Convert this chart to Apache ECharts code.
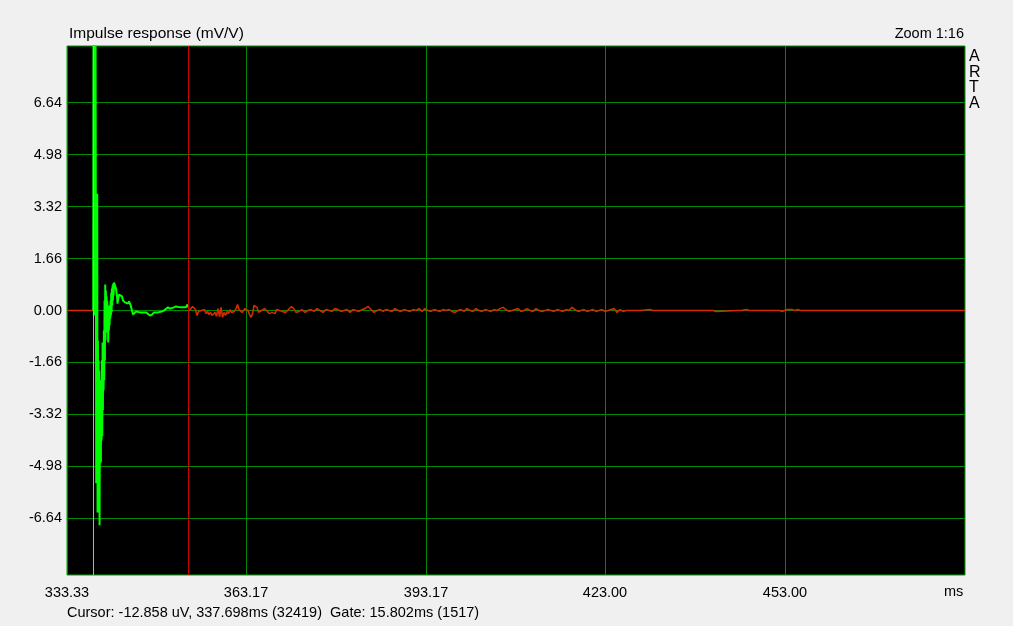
<!DOCTYPE html>
<html><head><meta charset="utf-8">
<script src="https://cdn.jsdelivr.net/npm/echarts@6/dist/echarts.min.js"></script>
<style>html,body{margin:0;padding:0;background:#f0f0f0}#c{width:1013px;height:626px}</style>
</head><body><div id="c"></div><script>
// ---- axis ticks ----
const xTicks = [333.33, 363.17, 393.17, 423.00, 453.00];
const yTicks = [-6.64, -4.98, -3.32, -1.66, 0.00, 1.66, 3.32, 4.98, 6.64];
const xMin = 333.33, xMax = 483.0;
const yMin = -8.45, yMax = 8.45;
const cursorMs = 337.698;
const gateEndMs = 353.5;

// ---- gated part (green), dense section: start, sample step, values (mV/V) ----
const denseStart = 337.70;
const denseStep = 0.0556;
const denseV = [0, 12, -0.16, 11, 0.2, 10, -0.15, 9,
  1.53, -5.52, 0.32, -5.11, 3.73, -6.45, -0.96, -4.47, -1.60, -4.41, -1.92, -6.86,
  -3.19, -4.88, -2.87, -4.85, -2.23, -4.15, -1.60, -4.02, -1.02, -3.19, -1.12, -2.55,
  -0.64, -2.23, 0.32, -1.60, 0.83, -0.96, 0.64, -0.70, 0.45, -0.48, 0.32, -0.32,
  0.16, -1.02, 0.00, -0.64, 0.06, -0.48, 0.16, -0.26, 0.32, -0.16, 0.57, -0.06,
  0.70, 0.16, 0.80, 0.32, 0.86, 0.48];
// gated part, tail section
const tailT = [341.16, 341.33, 341.50, 341.66, 341.75, 341.83, 342.00, 342.16, 342.33, 342.50,
  342.66, 342.83, 343.00, 343.16, 343.33, 343.50, 343.66, 343.83, 344.00, 344.16, 344.33,
  344.50, 344.66, 344.83, 345.16, 345.50, 345.83, 346.16, 346.50, 346.83, 347.16, 347.33,
  347.50, 347.83, 348.16, 348.50, 348.83, 349.16, 349.50, 349.83, 350.16, 350.50, 350.66,
  350.83, 351.16, 351.50, 351.83, 352.16, 352.50, 352.83, 353.16, 353.41, 353.50];
const tailV = [0.89, 0.93, 0.70, 0.45, 0.22, 0.32, 0.51, 0.48, 0.51, 0.45,
  0.32, 0.26, 0.26, 0.29, 0.26, 0.22, 0.29, 0.22, 0.13, 0.00, -0.13,
  -0.16, -0.10, -0.03, -0.06, -0.06, -0.03, -0.06, -0.06, -0.10, -0.16, -0.19,
  -0.13, -0.06, -0.03, -0.06, -0.10, -0.03, 0.00, 0.06, 0.10, 0.06, 0.00,
  0.03, 0.10, 0.13, 0.10, 0.10, 0.10, 0.06, 0.10, 0.19, 0.10];

// ---- outside the gate (red) ----
const preT = [333.33, 337.70];
const preV = [0, 0];
const segAStart = 353.5, segAStep = 0.25;
const segAV = [-0.03, -0.06, 0.06, 0.13, 0.10, 0.03, -0.16, -0.03, -0.06, 0.00,
  -0.03, 0.03, -0.10, -0.03, -0.13, -0.06, -0.16, -0.22, -0.06, -0.19,
  0.06, -0.20, 0.10, -0.22, -0.06, -0.16, -0.03, -0.10, 0.03, -0.06,
  0.00, -0.03, 0.06, 0.19, 0.03, -0.03, -0.06, 0.00, 0.06, 0.10,
  0.00, -0.13, -0.22, -0.10, 0.16, 0.22, 0.10, -0.06, -0.10, 0.00,
  -0.03, 0.06, 0.03, -0.03, -0.10, -0.13, -0.06, 0.00, -0.10, 0.03,
  0.06, 0.00, -0.06, -0.03, 0.03, -0.06, 0.00, 0.03, 0.06, 0.13,
  0.16, 0.03, -0.06, 0.00];
const segBStart = 372.0, segBStep = 0.5;
const segBV = [-0.03, 0.03, -0.06, 0.00, 0.03, -0.03, 0.06, 0.00, -0.06, 0.03,
  0.00, -0.03, 0.06, 0.03, -0.03, 0.00, 0.03, -0.06, 0.03, 0.00,
  -0.03, 0.03, 0.06, 0.13, 0.03, -0.06, 0.00, 0.03, -0.03, 0.03,
  0.00, -0.03, 0.06, 0.00, -0.03, 0.03, 0.00, -0.03, 0.03, 0.00,
  0.06, -0.03, 0.06, 0.00, -0.03, 0.03, 0.00, -0.03, 0.03, 0.00,
  0.03, -0.03, -0.06, 0.00, 0.03, -0.03, 0.06, 0.00, -0.03, 0.06,
  0.00, -0.03, 0.03, 0.00, -0.03, 0.03, 0.00, 0.06, 0.10, 0.03,
  -0.03, 0.00, 0.03, 0.06, -0.03, 0.00, 0.06, 0.00, -0.03, 0.06,
  0.00, -0.03, 0.00, 0.03, 0.00, -0.03, 0.03, 0.00, -0.03, 0.03,
  0.00, 0.10, 0.03, -0.03, 0.00, 0.03, -0.03, 0.00, 0.03, -0.03,
  0.00, 0.03, -0.03, 0.00, 0.03, 0.06, -0.06];
const segCT = [425.5, 426.0, 426.5, 428.83, 430.5, 431.0, 436.16, 436.33, 436.66, 439.33,
  439.5, 439.83, 441.0, 441.16, 441.5, 441.83, 445.16, 445.33, 445.66, 446.66,
  447.0, 452.16, 452.5, 452.83, 453.33, 453.66, 454.16, 454.66, 455.16, 455.5,
  463.0, 463.16, 463.5, 483.0];
const segCV = [0.03, -0.03, 0, 0, 0.03, 0, 0, 0.06, 0, 0,
  0.03, 0, 0, 0.03, -0.03, 0, 0, 0.03, 0, 0.03,
  0, 0, -0.03, 0, 0.03, 0, 0.03, 0, 0.03, 0,
  0, 0.03, 0, 0];

// ---- build series data ----
const greenData = denseV.map((v, i) => [denseStart + i * denseStep, v])
  .concat(tailT.map((t, i) => [t, tailV[i]]));
const redPre = preT.map((t, i) => [t, preV[i]]);
const redPost = segAV.map((v, i) => [segAStart + i * segAStep, v])
  .concat(segBV.map((v, i) => [segBStart + i * segBStep, v]))
  .concat(segCT.map((t, i) => [t, segCV[i]]));

const FONT = "'Liberation Sans', Arial, sans-serif";
const GRID_GREEN = '#008a00';
const chart = echarts.init(document.getElementById('c'), null, {renderer: 'canvas'});
chart.setOption({
  backgroundColor: '#f0f0f0',
  animation: false,
  grid: {left: 67, top: 46, right: 48, bottom: 51, show: true, backgroundColor: '#000000',
         borderColor: '#00a000', borderWidth: 1},
  xAxis: {
    type: 'value', min: xMin, max: xMax,
    axisLine: {show: false},
    axisTick: {show: false, customValues: xTicks},
    splitLine: {show: true, lineStyle: {color: GRID_GREEN, width: 1}},
    axisLabel: {customValues: xTicks, formatter: v => v.toFixed(2), color: '#000',
      fontFamily: FONT, fontSize: 14.5, margin: 10, showMinLabel: true}
  },
  yAxis: {
    type: 'value', min: yMin, max: yMax,
    axisLine: {show: false},
    axisTick: {show: false, customValues: yTicks},
    splitLine: {show: true, lineStyle: {color: GRID_GREEN, width: 1}},
    axisLabel: {customValues: yTicks, formatter: v => v.toFixed(2), color: '#000',
      fontFamily: FONT, fontSize: 14.5, margin: 5}
  },
  series: [
    {
      type: 'line', data: redPre, showSymbol: false, silent: true, z: 2,
      lineStyle: {color: '#d42a00', width: 1.5}
    },
    {
      type: 'line', data: redPost, showSymbol: false, silent: true, z: 2,
      lineStyle: {color: '#d42a00', width: 1.6}
    },
    {
      type: 'line', data: greenData, showSymbol: false, silent: true, z: 3,
      lineStyle: {color: '#00ff00', width: 2},
      markLine: {
        silent: true, symbol: 'none', animation: false,
        label: {show: false},
        emphasis: {disabled: true},
        data: [
          {xAxis: cursorMs, lineStyle: {color: '#c8c800', width: 1, type: 'solid'}},
          {xAxis: gateEndMs, lineStyle: {color: '#d00000', width: 1, type: 'solid'}}
        ]
      }
    }
  ],
  graphic: [
    {type: 'text', left: 69, top: 26, style: {text: 'Impulse response (mV/V)', fill: '#000',
      font: "15.5px " + FONT}},
    {type: 'text', right: 49, top: 26, style: {text: 'Zoom 1:16', fill: '#000',
      font: "14.5px " + FONT}},
    {type: 'text', left: 969, top: 49, style: {text: 'A\nR\nT\nA', fill: '#000',
      font: "16px " + FONT, lineHeight: 15.5}},
    {type: 'text', left: 944, top: 584, style: {text: 'ms', fill: '#000',
      font: "14.5px " + FONT}},
    {type: 'text', left: 67, top: 605, style: {text: 'Cursor: -12.858 uV, 337.698ms (32419)  Gate: 15.802ms (1517)',
      fill: '#000', font: "14.5px " + FONT}}
  ]
});
</script></body></html>
